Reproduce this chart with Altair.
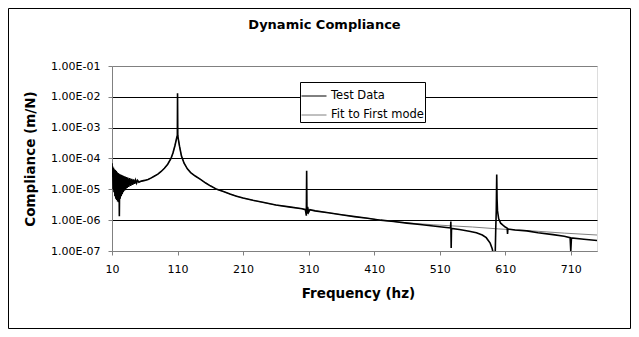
import altair as alt
import pandas as pd

# ---- data ----
series_names = ["Test Data", "Fit to First mode"]

test_freq = [10, 10.5, 11, 11.7, 12.3, 13, 13.7, 14.4, 15.1, 15.8, 16.5, 17.2, 17.9, 18.6, 19.3,
             20, 20.7, 21.2, 21.8, 22.5, 23.2, 24, 24.8, 25.6, 26.4, 27.2, 28, 29, 30, 31, 32,
             33, 34, 35.5, 37, 38.5, 40, 41.5, 43, 44.5, 46, 47.5, 49, 51,
             55, 60, 65, 70, 75, 80, 85, 90, 95, 100, 103, 106, 108, 109, 109.7, 110, 110.4,
             111, 113, 116, 120, 125, 130, 137, 145, 153, 160, 170, 180, 190, 200, 210, 225,
             240, 260, 280, 300, 305, 306.5, 307, 307.5, 308.5, 310, 312, 320, 340, 360, 380,
             400, 420, 440, 460, 480, 500, 520, 526.5, 527, 527.5, 528, 540, 555, 566, 575,
             581, 587, 590, 592, 593.5, 594.5, 595.5, 596.3, 597, 597.5, 598.2, 600, 603,
             606, 610, 613, 613.5, 614, 625, 643, 660, 683, 700, 709, 710, 711, 730, 750]
test_val = [7e-5, 2.5e-5, 5.5e-5, 1e-5, 5e-5, 8e-6, 4.5e-5, 6e-6, 4.2e-5, 5e-6, 3.9e-5, 4.5e-6,
            3.6e-5, 4e-6, 3.4e-5, 3.8e-6, 3.2e-5, 1.35e-6, 3.1e-5, 5e-6, 3e-5, 6e-6, 2.9e-5,
            7e-6, 2.8e-5, 8e-6, 2.7e-5, 9e-6, 2.6e-5, 1e-5, 2.5e-5, 1.1e-5, 2.4e-5, 1.2e-5,
            2.3e-5, 1.3e-5, 2.2e-5, 1.4e-5, 2.1e-5, 1.5e-5, 2.0e-5, 1.6e-5, 1.95e-5, 1.7e-5,
            1.85e-5, 1.95e-5, 2.1e-5, 2.35e-5, 2.7e-5, 3.1e-5, 3.8e-5, 4.8e-5, 6.5e-5, 1e-4,
            1.5e-4, 2.6e-4, 4e-4, 5e-4, 5.5e-4, 1.3e-2, 5.5e-4, 4.5e-4, 2.5e-4, 1.2e-4, 7e-5,
            4.6e-5, 3.5e-5, 2.7e-5, 2.1e-5, 1.6e-5, 1.3e-5, 1e-5, 8.5e-6, 7e-6, 6e-6, 5.2e-6,
            4.4e-6, 3.8e-6, 3.1e-6, 2.7e-6, 2.35e-6, 2.2e-6, 1.4e-6, 4e-5, 1.6e-6, 2.7e-6,
            1.8e-6, 2.2e-6, 2.0e-6, 1.75e-6, 1.5e-6, 1.3e-6, 1.15e-6, 1e-6, 9e-7, 8e-7, 7.2e-7,
            6.5e-7, 5.8e-7, 5.6e-7, 9e-7, 1.25e-7, 5.4e-7, 5e-7, 4.4e-7, 3.9e-7, 3.3e-7,
            2.7e-7, 1.8e-7, 1.2e-7, 8e-8, 5e-8, 5e-8, 5e-7, 2e-6, 3e-5, 5e-6, 2e-6, 1.1e-6,
            8e-7, 7e-7, 6e-7, 5.5e-7, 3.6e-7, 5.2e-7, 4.8e-7, 4.5e-7, 3.9e-7, 3.4e-7, 3e-7,
            2.7e-7, 1e-7, 2.65e-7, 2.4e-7, 2.2e-7]

fit_freq = [10, 30, 50, 55, 60, 65, 70, 75, 80, 85, 90, 95, 100, 103, 106, 108, 109, 110, 111,
            113, 116, 120, 125, 130, 137, 145, 153, 160, 170, 180, 190, 200, 210, 225, 240,
            260, 280, 300, 320, 340, 360, 380, 400, 420, 440, 460, 480, 500, 530, 560, 600,
            650, 700, 750]
fit_val = [1.75e-5, 1.78e-5, 1.82e-5, 1.85e-5, 1.95e-5, 2.1e-5, 2.35e-5, 2.7e-5, 3.1e-5,
           3.8e-5, 4.8e-5, 6.5e-5, 1e-4, 1.5e-4, 2.6e-4, 4e-4, 5e-4, 6e-4, 4.5e-4, 2.5e-4,
           1.2e-4, 7e-5, 4.6e-5, 3.5e-5, 2.7e-5, 2.1e-5, 1.6e-5, 1.3e-5, 1e-5, 8.5e-6, 7e-6,
           6e-6, 5.2e-6, 4.4e-6, 3.8e-6, 3.1e-6, 2.7e-6, 2.35e-6, 2.0e-6, 1.75e-6, 1.5e-6,
           1.3e-6, 1.15e-6, 1e-6, 9e-7, 8.2e-7, 7.6e-7, 7.1e-7, 6.5e-7, 6e-7, 5.2e-7, 4.5e-7,
           3.8e-7, 3.3e-7]

x_ticks = [10, 110, 210, 310, 410, 510, 610, 710]
y_ticks = [1e-7, 1e-6, 1e-5, 1e-4, 1e-3, 1e-2, 1e-1]

# ---- tables ----
df_test = pd.DataFrame({"freq": test_freq, "val": test_val, "series": series_names[0],
                        "idx": range(len(test_freq))})
df_fit = pd.DataFrame({"freq": fit_freq, "val": fit_val, "series": series_names[1],
                       "idx": range(len(fit_freq))})

W, H = 485, 185
PAD = {"left": 104, "top": 58, "right": 34, "bottom": 78}

x_enc = alt.X("freq:Q",
              scale=alt.Scale(domain=[10, 750], nice=False, zero=False),
              axis=alt.Axis(values=x_ticks, title="Frequency (hz)", grid=False,
                            labelFont="DejaVu Sans", labelFontSize=11, labelColor="#000",
                            tickSize=4, tickColor="#808080", domainColor="#808080",
                            labelPadding=8, labelFlush=False,
                            titleFont="DejaVu Sans", titleFontSize=13.5, titleFontWeight="bold",
                            titleColor="#000", titleX=246, titleY=46,
                            titleBaseline="alphabetic"))
y_enc = alt.Y("val:Q",
              scale=alt.Scale(type="log", domain=[1e-7, 1e-1], nice=False),
              axis=alt.Axis(values=y_ticks,
                            labelExpr="'1.00E-0' + format(-log(datum.value)/LN10, '.0f')",
                            title="Compliance (m/N)", grid=True,
                            gridColor=alt.condition("datum.value > 0.05 || datum.value < 2e-7",
                                                    alt.value("#808080"), alt.value("#000000")),
                            gridWidth=1,
                            labelFont="DejaVu Sans", labelFontSize=11, labelColor="#000",
                            tickSize=4, tickColor="#808080", domainColor="#808080",
                            labelPadding=8,
                            titleFont="DejaVu Sans", titleFontSize=13.5, titleFontWeight="bold",
                            titleColor="#000", titleX=-78, titleBaseline="alphabetic"))

color_enc = alt.Color("series:N",
                      scale=alt.Scale(domain=series_names, range=["#000000", "#808080"]),
                      legend=alt.Legend(orient="none", legendX=188, legendY=16, title=None,
                                        symbolType="stroke", symbolSize=625,
                                        symbolStrokeWidth=1, labelFont="DejaVu Sans",
                                        labelFontSize=11.5, labelColor="#000", labelOffset=4,
                                        padding=1, rowPadding=0, strokeColor="#000",
                                        fillColor="#ffffff", cornerRadius=0))

fit_line = alt.Chart(df_fit).mark_line(strokeWidth=1, clip=True).encode(
    x=x_enc, y=y_enc, color=color_enc, order="idx:Q")
test_line = alt.Chart(df_test).mark_line(strokeWidth=1.6, clip=True).encode(
    x=x_enc, y=y_enc, color=color_enc, order="idx:Q")

frame = alt.Chart(alt.Data(values=[{}])).mark_rect(
    fill="transparent", stroke="#000", strokeWidth=1).encode(
    x=alt.value(-PAD["left"] + 0.5), x2=alt.value(W + PAD["right"] - 0.5),
    y=alt.value(-PAD["top"] + 0.5), y2=alt.value(H + PAD["bottom"] - 0.5))

chart = alt.layer(fit_line, test_line, frame).properties(
    width=W, height=H, autosize="none", padding=PAD,
    title=alt.TitleParams("Dynamic Compliance", font="DejaVu Sans", fontSize=13,
                          fontWeight="bold", color="#000", anchor="middle", frame="group",
                          dx=-30, dy=28, offset=4),
).configure_view(stroke="#808080", strokeWidth=1).configure(background="white")

chart.save("out.html", embed_options={"renderer": "svg", "actions": False})
